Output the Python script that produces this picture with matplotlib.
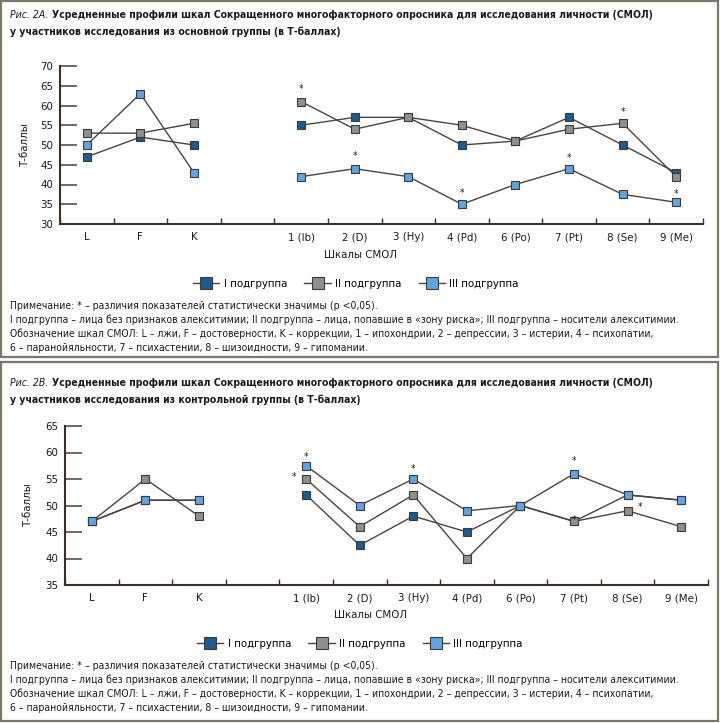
import numpy as np
import matplotlib.pyplot as plt
from matplotlib import font_manager as fm
from matplotlib.lines import Line2D
from matplotlib.patches import Rectangle

# a condensed face looks closest to the original typesetting
has_cond = any(f.name == "DejaVu Sans" and f.stretch == "condensed"
               for f in fm.fontManager.ttflist)
if has_cond:
    plt.rcParams['font.family'] = ['DejaVu Sans']
    plt.rcParams['font.stretch'] = 'condensed'
else:
    plt.rcParams['font.family'] = ['Liberation Sans', 'DejaVu Sans']

# categories (index 3 is an empty slot between K and 1)
categories = ["L", "F", "K", "", "1 (Ib)", "2 (D)", "3 (Hy)", "4 (Pd)",
              "6 (Po)", "7 (Pt)", "8 (Se)", "9 (Me)"]
series_names = ["I подгруппа", "II подгруппа", "III подгруппа"]

nan = np.nan
# Fig 2A - main group
a_group1 = [47, 52, 50, nan, 55, 57, 57, 50, 51, 57, 50, 43]
a_group2 = [53, 53, 55.5, nan, 61, 54, 57, 55, 51, 54, 55.5, 42]
a_group3 = [50, 63, 43, nan, 42, 44, 42, 35, 40, 44, 37.5, 35.5]
# significant differences: (series index, category index)
a_signif = [(1, 4), (2, 5), (2, 7), (2, 9), (1, 10), (2, 11)]

# Fig 2B - control group
b_group1 = [47, 51, 51, nan, 52, 42.5, 48, 45, 50, 47, 52, 51]
b_group2 = [47, 55, 48, nan, 55, 46, 52, 40, 50, 47, 49, 46]
b_group3 = [47, 51, 51, nan, 57.5, 50, 55, 49, 50, 56, 52, 51]
b_signif = [(2, 4), (1, 4), (2, 6), (2, 9), (1, 9), (1, 10)]

# asterisk offsets in pixels (dx, dy) relative to the marker
a_star_off = [(0, 15), (0, 15), (0, 14), (0, 13), (0, 14), (0, 11)]
b_star_off = [(0, 12), (-12, 5), (0, 13), (0, 15), (0, 4), (12, 7)]

title_1 = "Усредненные профили шкал Сокращенного многофакторного опросника для исследования личности (СМОЛ)"
note_lines = [
    "Примечание: * – различия показателей статистически значимы (р <0,05).",
    "I подгруппа – лица без признаков алекситимии; II подгруппа – лица, попавшие в «зону риска»; III подгруппа – носители алекситимии.",
    "Обозначение шкал СМОЛ: L – лжи, F – достоверности, K – коррекции, 1 – ипохондрии, 2 – депрессии, 3 – истерии, 4 – психопатии,",
    "6 – паранойяльности, 7 – психастении, 8 – шизоидности, 9 – гипомании.",
]

colors = ["#1f5b8e", "#8f8f8f", "#62a3e0"]
line_col = "#4b443e"
axis_col = "#3a3029"
border_col = "#7d766b"
txt_col = "#1a1a1a"

W, H = 720, 723
fig = plt.figure(figsize=(W / 100, H / 100), dpi=100)
fig.patch.set_facecolor("white")
renderer = fig.canvas.get_renderer()

bg = fig.add_axes([0, 0, 1, 1])
bg.set_xlim(0, W)
bg.set_ylim(H, 0)
bg.axis("off")


def fit_size(s, width, **kw):
    # font size that makes the string about `width` pixels wide
    t = bg.text(0, 0, s, fontsize=10, **kw)
    w = t.get_window_extent(renderer).width
    t.remove()
    return 10 * width / w


note_fs = fit_size(note_lines[1], 668)
title_fs = fit_size("Рис. 2А. " + title_1, 643, fontweight="bold")
lab_fs = note_fs * 1.1

for y0, y1 in [(1, 357), (362, 721)]:
    bg.add_patch(Rectangle((1, y0), W - 3, y1 - y0, fill=False,
                           edgecolor=border_col, linewidth=1.6))


def px_axes(x0, x1, ytop, ybot):
    return fig.add_axes([x0 / W, 1 - ybot / H, (x1 - x0) / W, (ybot - ytop) / H])


def draw_panel(ax, data, signif, offs, ylim):
    x = np.arange(len(categories)) + 0.5
    for i, vals in enumerate(data):
        ax.plot(x, vals, color=line_col, lw=1.0, marker="s", markersize=6.3,
                markerfacecolor=colors[i], markeredgecolor="#3a3a3a",
                markeredgewidth=0.8, zorder=3 + i)
    for (s, c), (dx, dy) in zip(signif, offs):
        ax.annotate("*", xy=(x[c], data[s][c]), xytext=(dx * 0.72, dy * 0.72 - 2),
                    textcoords="offset points", ha="center", va="center",
                    fontsize=7, color=txt_col, zorder=10)
    ax.set_xlim(0, len(categories))
    ax.set_ylim(*ylim)
    ax.set_yticks(np.arange(ylim[0], ylim[1] + 1, 5))
    ax.set_xticks(np.arange(0, len(categories) + 1))
    ax.set_xticklabels([])
    ax.set_xticks(x, minor=True)
    ax.set_xticklabels(categories, minor=True)
    ax.tick_params(axis="x", which="major", direction="in", length=4,
                   width=1.0, color=axis_col)
    ax.tick_params(axis="x", which="minor", length=0, pad=6, labelsize=lab_fs,
                   labelcolor=txt_col)
    ax.tick_params(axis="y", direction="in", length=12, width=1.2,
                   color="#5a524a", pad=5, labelsize=lab_fs, labelcolor=txt_col)
    for side in ["top", "right"]:
        ax.spines[side].set_visible(False)
    for side in ["left", "bottom"]:
        ax.spines[side].set_color(axis_col)
        ax.spines[side].set_linewidth(1.5)
    ax.patch.set_alpha(0)


def title(y, tag, rest1, rest2):
    t = bg.text(10, y, tag, style="italic", fontsize=title_fs, va="baseline",
                color=txt_col)
    bg.annotate(rest1, xy=(1, 0), xycoords=t, xytext=(2.5, 0),
                textcoords="offset points", fontsize=title_fs, fontweight="bold",
                va="bottom", color=txt_col)
    bg.text(10, y + 17, rest2, fontsize=title_fs, fontweight="bold",
            va="baseline", color=txt_col)


def notes(y):
    for k, s in enumerate(note_lines):
        bg.text(10, y + 14 * k, s, fontsize=note_fs, va="center", color=txt_col)


def legend(xc, y):
    handles = [Line2D([], [], color=line_col, lw=1.0, marker="s", markersize=8.5,
                      markerfacecolor=c, markeredgecolor="#3a3a3a",
                      markeredgewidth=0.8) for c in colors]
    fig.legend(handles, series_names, loc="center", ncol=3,
               bbox_to_anchor=(xc / W, 1 - y / H), frameon=False, fontsize=lab_fs,
               handlelength=2.3, columnspacing=1.5, handletextpad=0.4)


# panel A
title(18, "Рис. 2А.", title_1,
      "у участников исследования из основной группы (в Т-баллах)")
axA = px_axes(60, 703, 66, 224)
draw_panel(axA, [a_group1, a_group2, a_group3], a_signif, a_star_off, (30, 70))
bg.text(25, 145, "Т-баллы", rotation=90, ha="center", va="center",
        fontsize=lab_fs, color=txt_col)
bg.text(360, 255, "Шкалы СМОЛ", ha="center", va="center", fontsize=lab_fs,
        color=txt_col)
legend(356, 284)
notes(306)

# panel B
title(386, "Рис. 2В.", title_1,
      "у участников исследования из контрольной группы (в Т-баллах)")
axB = px_axes(65, 708, 426, 585)
draw_panel(axB, [b_group1, b_group2, b_group3], b_signif, b_star_off, (35, 65))
bg.text(28, 505, "Т-баллы", rotation=90, ha="center", va="center",
        fontsize=lab_fs, color=txt_col)
bg.text(370, 615, "Шкалы СМОЛ", ha="center", va="center", fontsize=lab_fs,
        color=txt_col)
legend(360, 644)
notes(666)

plt.savefig("out.png", dpi=100)
